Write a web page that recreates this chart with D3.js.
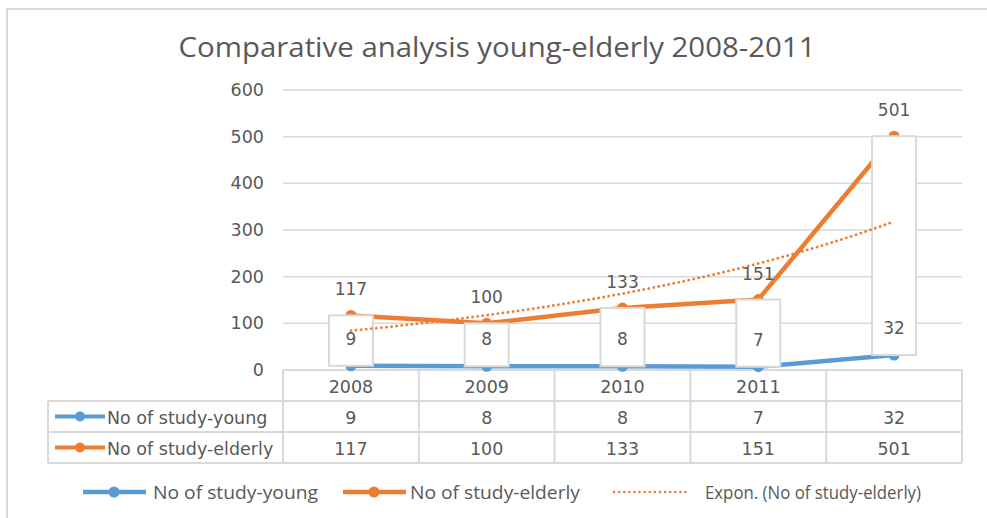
<!doctype html>
<html lang="en">
<head>
<meta charset="utf-8">
<title>Comparative analysis young-elderly 2008-2011</title>
<script src="https://cdn.jsdelivr.net/npm/d3@7"></script>
<style>
  body { margin: 0; background: #fff; }
  text { fill: #595959; }
  .num { font-family: "DejaVu Sans", sans-serif; font-size: 17.5px; }
  .cal { font-family: "Open Sans", sans-serif; }
</style>
</head>
<body>
<script>
// chart data
var years = ["2008", "2009", "2010", "2011", ""];
var young = [9, 8, 8, 7, 32];
var elderly = [117, 100, 133, 151, 501];
var yTicks = [0, 100, 200, 300, 400, 500, 600];
var seriesNames = ["No of study-young", "No of study-elderly"];
var trendName = "Expon. (No of study-elderly)";

var blue = "#5b9bd5", orange = "#ed7d31", grid = "#d9d9d9";

var svg = d3.select("body").append("svg")
    .attr("width", 987).attr("height", 518);

// outer chart border
svg.append("rect").attr("x", 7).attr("y", 9).attr("width", 990).attr("height", 520)
    .attr("fill", "none").attr("stroke", grid).attr("stroke-width", 2);

svg.append("text").attr("class", "cal")
    .attr("x", 497).attr("y", 57).attr("text-anchor", "middle")
    .style("font-size", "28px")
    .attr("textLength", 637).attr("lengthAdjust", "spacingAndGlyphs")
    .text("Comparative analysis young-elderly 2008-2011");

var x = d3.scaleBand().domain(d3.range(years.length)).range([283, 962]);
var y = d3.scaleLinear().domain([0, 600]).range([370, 90]);
var cx = function(i){ return x(i) + x.bandwidth() / 2; };

// gridlines
svg.append("g").selectAll("line").data(yTicks.slice(1)).enter().append("line")
    .attr("x1", 283).attr("x2", 962)
    .attr("y1", function(d){ return y(d); }).attr("y2", function(d){ return y(d); })
    .attr("stroke", grid).attr("stroke-width", 1.5);

// y axis labels
var yAxis = svg.append("g").attr("transform", "translate(264,0)")
    .call(d3.axisLeft(y).tickValues(yTicks).tickSize(0).tickPadding(0));
yAxis.select(".domain").remove();
yAxis.selectAll("text").attr("fill", "#595959")
    .style("font-size", "17.5px").style("font-family", "DejaVu Sans, sans-serif");

// data table
var rowTop = 370, rowH = 31;
var tbl = svg.append("g").attr("stroke", grid).attr("stroke-width", 2);
tbl.append("line").attr("x1", 283).attr("x2", 962).attr("y1", rowTop).attr("y2", rowTop);
[1, 2, 3].forEach(function(r){
    tbl.append("line").attr("x1", 48).attr("x2", 962)
        .attr("y1", rowTop + r * rowH).attr("y2", rowTop + r * rowH);
});
tbl.append("line").attr("x1", 48).attr("x2", 48).attr("y1", rowTop + rowH).attr("y2", rowTop + 3 * rowH);
d3.range(years.length + 1).forEach(function(i){
    var xx = i < years.length ? x(i) : x.range()[1];
    tbl.append("line").attr("x1", xx).attr("x2", xx).attr("y1", rowTop).attr("y2", rowTop + 3 * rowH);
});

svg.append("g").selectAll("text").data(years).enter().append("text")
    .attr("class", "num").attr("text-anchor", "middle")
    .attr("x", function(d, i){ return cx(i); }).attr("y", rowTop + rowH / 2 + 7)
    .text(function(d){ return d; });

[young, elderly].forEach(function(vals, r){
    var ry = rowTop + (r + 1) * rowH;
    var col = r === 0 ? blue : orange;
    svg.append("line").attr("x1", 55).attr("x2", 105).attr("y1", ry + rowH / 2).attr("y2", ry + rowH / 2)
        .attr("stroke", col).attr("stroke-width", 4);
    svg.append("circle").attr("cx", 80).attr("cy", ry + rowH / 2).attr("r", 5).attr("fill", col);
    svg.append("text").attr("class", "num").attr("x", 107).attr("y", ry + rowH / 2 + 7)
        .text(seriesNames[r]);
    svg.append("g").selectAll("text").data(vals).enter().append("text")
        .attr("class", "num").attr("text-anchor", "middle")
        .attr("x", function(d, i){ return cx(i); }).attr("y", ry + rowH / 2 + 7)
        .text(function(d){ return d; });
});

// series lines and markers
var line = d3.line().x(function(d, i){ return cx(i); }).y(function(d){ return y(d); });
[[young, blue], [elderly, orange]].forEach(function(s){
    svg.append("path").datum(s[0]).attr("d", line)
        .attr("fill", "none").attr("stroke", s[1]).attr("stroke-width", 4.5)
        .attr("stroke-linejoin", "round");
    svg.append("g").selectAll("circle").data(s[0]).enter().append("circle")
        .attr("cx", function(d, i){ return cx(i); }).attr("cy", function(d){ return y(d); })
        .attr("r", 5.5).attr("fill", s[1]);
});

// young labels: boxes stretched between the two series
svg.append("g").selectAll("rect").data(young).enter().append("rect")
    .attr("x", function(d, i){ return cx(i) - 22; })
    .attr("y", function(d, i){ return y(elderly[i]); })
    .attr("width", 44)
    .attr("height", function(d, i){ return y(d) - y(elderly[i]); })
    .attr("fill", "#fff").attr("stroke", grid).attr("stroke-width", 2);
svg.append("g").selectAll("text").data(young).enter().append("text")
    .attr("class", "num").attr("text-anchor", "middle").style("font-size", "17px")
    .attr("x", function(d, i){ return cx(i); }).attr("y", function(d){ return y(d) - 21; })
    .text(function(d){ return d; });

// elderly labels
svg.append("g").selectAll("text").data(elderly).enter().append("text")
    .attr("class", "num").attr("text-anchor", "middle").style("font-size", "17px")
    .attr("x", function(d, i){ return cx(i); }).attr("y", function(d){ return y(d) - 20; })
    .text(function(d){ return d; });

// exponential trendline fitted to elderly (least squares on ln y)
var xs = d3.range(1, elderly.length + 1);
var ls = elderly.map(Math.log);
var mx = d3.mean(xs), ml = d3.mean(ls);
var b = d3.sum(xs, function(v, i){ return (v - mx) * (ls[i] - ml); }) /
        d3.sum(xs, function(v){ return (v - mx) * (v - mx); });
var a = ml - b * mx;
var trendPts = d3.range(0, elderly.length - 1 + 0.001, 0.1).map(function(t){
    return [t, Math.exp(a + b * (t + 1))];
});
svg.append("path").datum(trendPts)
    .attr("d", d3.line().x(function(d){ return cx(0) + d[0] * x.step(); }).y(function(d){ return y(d[1]); }))
    .attr("fill", "none").attr("stroke", orange).attr("stroke-width", 2.8)
    .attr("stroke-dasharray", "0.1 5").attr("stroke-linecap", "round");

// legend
var leg = svg.append("g").attr("transform", "translate(0,492)");
var legItems = [
    {x: 83, col: blue, label: seriesNames[0], tx: 153, w: 165},
    {x: 343, col: orange, label: seriesNames[1], tx: 410, w: 170}
];
legItems.forEach(function(d){
    leg.append("line").attr("x1", d.x).attr("x2", d.x + 63).attr("y1", 0).attr("y2", 0)
        .attr("stroke", d.col).attr("stroke-width", 4.5);
    leg.append("circle").attr("cx", d.x + 31).attr("cy", 0).attr("r", 5.5).attr("fill", d.col);
    leg.append("text").attr("class", "cal").style("font-size", "19px")
        .attr("x", d.tx).attr("y", 7).attr("textLength", d.w).attr("lengthAdjust", "spacingAndGlyphs")
        .text(d.label);
});
leg.append("line").attr("x1", 614).attr("x2", 690).attr("y1", 0).attr("y2", 0)
    .attr("stroke", orange).attr("stroke-width", 2.5)
    .attr("stroke-dasharray", "0.1 5").attr("stroke-linecap", "round");
leg.append("text").attr("class", "cal").style("font-size", "19px")
    .attr("x", 705).attr("y", 7).attr("textLength", 216).attr("lengthAdjust", "spacingAndGlyphs")
    .text(trendName);
</script>
</body>
</html>
